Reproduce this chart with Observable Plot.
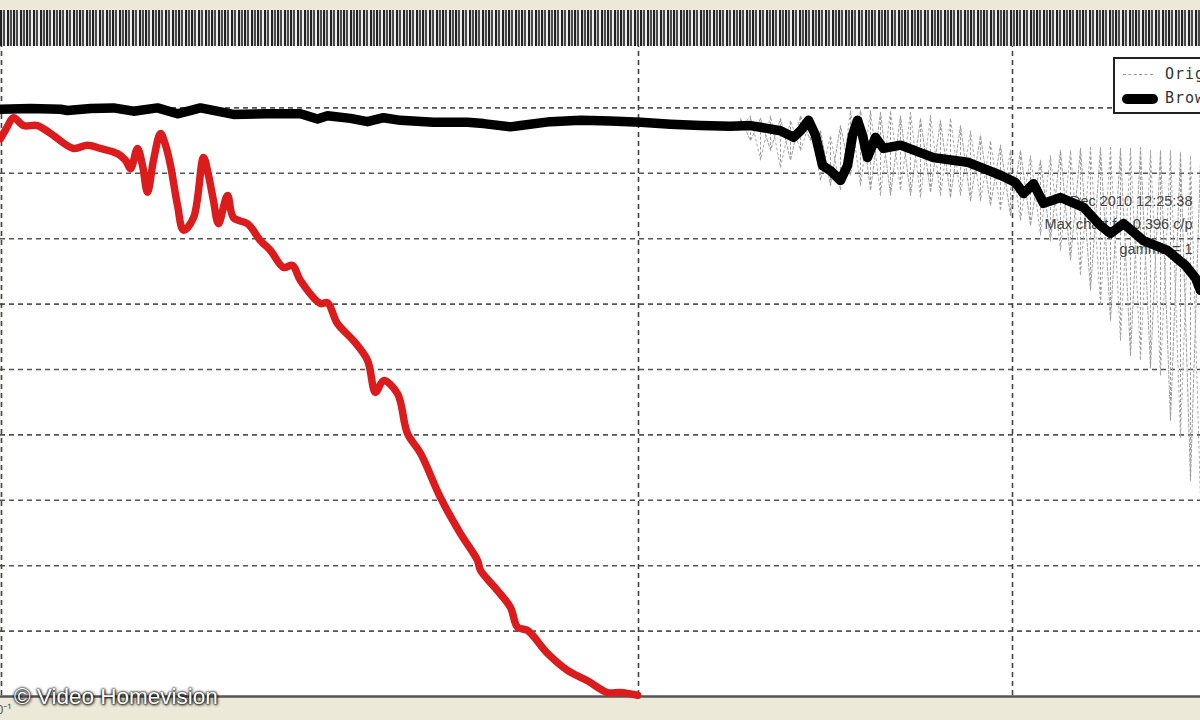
<!DOCTYPE html>
<html>
<head>
<meta charset="utf-8">
<script src="https://cdn.jsdelivr.net/npm/d3@7"></script>
<script src="https://cdn.jsdelivr.net/npm/@observablehq/plot@0.6"></script>
<style>
  html, body { margin: 0; padding: 0; }
  body { width: 1200px; height: 720px; overflow: hidden; background: #ece9d8; position: relative; font-family: "Liberation Sans", Arial, sans-serif; }
  #chart { position: absolute; left: 0; top: 42px; }
  #band { position: absolute; left: 0; top: 10px; width: 1200px; height: 36px; z-index: 3;
    background: repeating-linear-gradient(90deg, #222 0px, #222 2px, #cfcfcf 2px, #cfcfcf 3px, #4a4a4a 3px, #4a4a4a 5px, #eeeeee 5px, #eeeeee 6.6px); }
  #legend { position: absolute; left: 1113px; top: 57px; width: 130px; height: 53px; border: 2px solid #222; background: #fff; z-index: 4; }
  #legend .row { position: absolute; left: 0; width: 130px; height: 20px; }
  #legend .txt { position: absolute; left: 50px; top: 0; font-family: "DejaVu Sans Mono", monospace; font-size: 15px; color: #333; letter-spacing: 1px; }
  #legend .dash { position: absolute; left: 8px; top: 9px; width: 30px; border-top: 1px dashed #999; }
  #legend .thick { position: absolute; left: 7px; top: 5px; width: 36px; height: 10px; background: #000; border-radius: 5px; }
  #copy { position: absolute; left: 14px; top: 684px; font-size: 22.5px; color: #fff; z-index: 5;
    text-shadow: 0 0 2px #000, 0 0 3px #000, 1px 1px 3px #333; font-family: "Liberation Sans", Arial, sans-serif; }
</style>
</head>
<body>
<div id="band"></div>
<div id="chart"></div>
<div id="legend">
  <div class="row" style="top:6px"><div class="dash"></div><div class="txt">Original</div></div>
  <div class="row" style="top:30px"><div class="thick"></div><div class="txt">Brown</div></div>
</div>
<div id="copy">© Video Homevision</div>
<script>
// ---- data (frequency vs. MTF) ----
const yTicks = [0.1, 0.2, 0.3, 0.4, 0.5, 0.6, 0.7, 0.8, 0.9];
const xGrid = [0.001, 0.638, 1.012];
const xTickLabels = ["10\u207B\u00B9"];
const xTickValues = [0];

const redX = [0, 0.006, 0.013, 0.023, 0.037, 0.05, 0.073, 0.087, 0.1, 0.117, 0.125, 0.13, 0.137, 0.142, 0.147, 0.153, 0.16, 0.165, 0.17, 0.177, 0.183, 0.193, 0.203, 0.208, 0.213, 0.218, 0.227, 0.233, 0.247, 0.26, 0.27, 0.283, 0.292, 0.3, 0.32, 0.327, 0.337, 0.353, 0.367, 0.375, 0.383, 0.397, 0.407, 0.42, 0.44, 0.46, 0.477, 0.48, 0.497, 0.51, 0.517, 0.527, 0.547, 0.567, 0.587, 0.607, 0.62, 0.637];
const redY = [0.853, 0.869, 0.885, 0.873, 0.873, 0.861, 0.838, 0.843, 0.838, 0.830, 0.820, 0.807, 0.838, 0.812, 0.771, 0.820, 0.861, 0.843, 0.812, 0.751, 0.713, 0.732, 0.824, 0.797, 0.758, 0.723, 0.766, 0.732, 0.723, 0.697, 0.682, 0.656, 0.659, 0.636, 0.601, 0.602, 0.570, 0.544, 0.514, 0.465, 0.483, 0.463, 0.402, 0.372, 0.304, 0.249, 0.208, 0.193, 0.162, 0.136, 0.106, 0.101, 0.066, 0.040, 0.024, 0.006, 0.006, 0.002];

const blackX = [0, 0.03, 0.06, 0.067, 0.09, 0.113, 0.133, 0.157, 0.177, 0.2, 0.233, 0.267, 0.3, 0.317, 0.327, 0.35, 0.367, 0.383, 0.4, 0.433, 0.467, 0.483, 0.51, 0.52, 0.55, 0.58, 0.61, 0.64, 0.67, 0.7, 0.73, 0.75, 0.765, 0.78, 0.793, 0.8, 0.808, 0.815, 0.822, 0.83, 0.84, 0.847, 0.852, 0.857, 0.862, 0.867, 0.875, 0.883, 0.9, 0.933, 0.967, 1.0, 1.015, 1.023, 1.033, 1.043, 1.06, 1.083, 1.1, 1.11, 1.123, 1.143, 1.167, 1.185, 1.195, 1.2];
const blackY = [0.898, 0.899, 0.898, 0.896, 0.899, 0.900, 0.895, 0.900, 0.891, 0.900, 0.890, 0.891, 0.891, 0.883, 0.888, 0.884, 0.879, 0.885, 0.881, 0.878, 0.878, 0.876, 0.871, 0.873, 0.879, 0.881, 0.880, 0.878, 0.875, 0.873, 0.872, 0.873, 0.869, 0.865, 0.855, 0.865, 0.881, 0.858, 0.812, 0.804, 0.789, 0.812, 0.858, 0.881, 0.858, 0.824, 0.855, 0.838, 0.843, 0.824, 0.817, 0.797, 0.786, 0.769, 0.784, 0.754, 0.763, 0.748, 0.720, 0.708, 0.723, 0.697, 0.682, 0.659, 0.640, 0.621];

const origX = [0.74, 0.75, 0.76, 0.77, 0.78, 0.79, 0.80, 0.81, 0.82, 0.83, 0.84, 0.85, 0.86, 0.87, 0.88, 0.89, 0.90, 0.91, 0.92, 0.93, 0.94, 0.95, 0.96, 0.97, 0.98, 0.99, 1.00, 1.01, 1.02, 1.03, 1.04, 1.05, 1.06, 1.07, 1.08, 1.09, 1.10, 1.11, 1.12, 1.13, 1.14, 1.15, 1.16, 1.17, 1.18, 1.19, 1.20];
const origHi = [0.884, 0.888, 0.884, 0.888, 0.884, 0.881, 0.888, 0.881, 0.865, 0.858, 0.873, 0.896, 0.896, 0.896, 0.893, 0.896, 0.888, 0.893, 0.884, 0.888, 0.881, 0.884, 0.873, 0.865, 0.858, 0.850, 0.843, 0.835, 0.835, 0.827, 0.820, 0.827, 0.835, 0.835, 0.838, 0.839, 0.839, 0.839, 0.838, 0.838, 0.839, 0.835, 0.835, 0.835, 0.832, 0.827, 0.820];
const origLo = [0.869, 0.850, 0.820, 0.835, 0.809, 0.820, 0.835, 0.850, 0.789, 0.781, 0.774, 0.797, 0.781, 0.774, 0.766, 0.766, 0.774, 0.766, 0.763, 0.771, 0.766, 0.763, 0.766, 0.758, 0.758, 0.751, 0.743, 0.735, 0.728, 0.720, 0.705, 0.697, 0.682, 0.667, 0.644, 0.621, 0.598, 0.575, 0.544, 0.521, 0.514, 0.502, 0.491, 0.422, 0.396, 0.330, 0.300];

const annotations = ["Dec 2010 12:25:38", "Max chart f = 0.396 c/p", "gamma = 1"];

// ---- tables built from the arrays ----
const red = redX.map((x, i) => ({x, y: redY[i]}));
const black = blackX.map((x, i) => ({x, y: blackY[i]}));
const orig = origX.map((x, i) => ({x, hi: origHi[i], lo: origLo[i]}));
const zig = orig.map((d, i) => ({x: d.x, y: i % 2 ? d.lo : d.hi}));
const zig2 = orig.map((d, i) => ({x: d.x, y: i % 2 ? d.hi : d.lo}));
const ann = annotations.map((t, i) => ({t, i}));
const xt = xTickValues.map((x, i) => ({x, label: xTickLabels[i]}));

const chart = Plot.plot({
  width: 1200,
  height: 678,
  marginTop: 0,
  marginBottom: 24,
  marginLeft: 0,
  marginRight: 0,
  style: {background: "transparent", overflow: "visible"},
  x: {domain: [0, 1.2], axis: null},
  y: {domain: [0, 1], axis: null},
  marks: [
    Plot.frame({fill: "white", stroke: "none"}),
    Plot.ruleY(yTicks, {stroke: "#555", strokeWidth: 1.6, strokeDasharray: "5,4"}),
    Plot.ruleX(xGrid, {stroke: "#444", strokeWidth: 1.6, strokeDasharray: "5,4"}),
    Plot.ruleX(orig, {x: "x", y1: "lo", y2: "hi", stroke: "#9c9c9c", strokeWidth: 1, strokeDasharray: "3,2"}),
    Plot.line(zig, {x: "x", y: "y", stroke: "#a0a0a0", strokeWidth: 1, strokeDasharray: "3,2"}),
    Plot.line(zig2, {x: "x", y: "y", stroke: "#aaa", strokeWidth: 1, strokeDasharray: "2,3"}),
    Plot.text(ann, {text: "t", frameAnchor: "top-right", fill: "#444", fontSize: 14.5, fontFamily: "Liberation Sans, Arial, sans-serif", textAnchor: "end"}),
    Plot.ruleY([0], {stroke: "#555", strokeWidth: 2.5}),
    Plot.line(red, {x: "x", y: "y", stroke: "#dc1c1c", strokeWidth: 7.5, curve: "catmull-rom", strokeLinejoin: "round", strokeLinecap: "round"}),
    Plot.line(black, {x: "x", y: "y", stroke: "#000", strokeWidth: 9.5, strokeLinejoin: "round", strokeLinecap: "round"}),
    Plot.text(xt, {x: "x", y: 0, text: "label", dy: 14, fill: "#555", fontSize: 12})
  ]
});
document.getElementById("chart").appendChild(chart);

// place annotation lines (vertical offsets as style only)
const offs = [153, 176, 201];
chart.querySelectorAll("text").forEach((el) => {
  const idx = annotations.indexOf(el.textContent);
  if (idx >= 0) el.setAttribute("transform", `translate(1192,${offs[idx]})`);
});
</script>
</body>
</html>
